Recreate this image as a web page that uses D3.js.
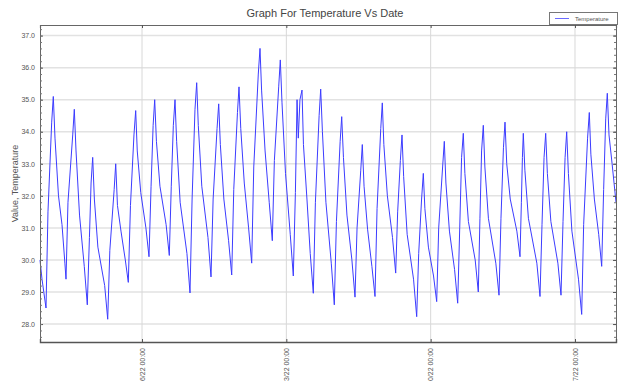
<!DOCTYPE html>
<html><head><meta charset="utf-8">
<script src="https://cdn.jsdelivr.net/npm/d3@7"></script>
<style>body{margin:0;background:#fff}svg{display:block}text{font-family:"Liberation Sans",Arial,sans-serif}</style>
</head><body>
<svg id="c" width="619" height="381"></svg>
<script>
// day-of-month (January), decimal
const days = [1.053,1.15,1.344,
1.44,1.62,1.698,1.78,1.95,2.12,2.26,2.314,
2.41,2.64,2.717,2.80,2.97,3.20,3.347,
3.45,3.53,3.609,3.69,3.86,4.19,4.337,
4.44,4.65,4.725,4.81,4.98,5.19,5.336,
5.44,5.61,5.694,5.77,5.94,6.19,6.340,
6.44,6.54,6.616,6.70,6.87,7.17,7.324,
7.42,7.52,7.601,7.68,7.85,8.18,8.328,
8.43,8.57,8.653,8.73,8.90,9.20,9.347,
9.45,9.64,9.720,9.80,9.97,10.20,10.351,
10.45,10.63,10.705,10.79,10.96,11.17,11.320,
11.42,11.64,11.723,11.80,11.97,12.17,12.320,
12.42,12.63,12.708,12.79,12.96,13.19,13.338,
13.44,13.52,13.58,13.66,13.76,13.83,14.00,14.16,14.308,
14.41,14.59,14.667,14.75,14.92,15.18,15.327,
15.43,15.61,15.686,15.77,15.94,16.18,16.331,
16.43,16.61,16.685,16.77,16.94,17.15,17.301,
17.40,17.58,17.655,17.73,17.90,18.15,18.304,
18.40,18.53,18.610,18.69,18.86,19.17,19.323,
19.42,19.56,19.644,19.72,19.89,20.14,20.293,
20.39,20.58,20.662,20.74,20.91,21.16,21.311,
21.41,21.50,21.583,21.66,21.83,22.16,22.311,
22.39,22.47,22.553,22.63,22.80,23.16,23.315,
23.41,23.53,23.606,23.69,23.86,24.18,24.333,
24.40,24.45,24.493,24.57,24.74,25.15,25.303,
25.40,25.50,25.579,25.66,25.83,26.17,26.322,
26.42,26.52,26.598,26.68,26.85,27.17,27.325,
27.42,27.61,27.694,27.77,27.94,28.15,28.295,
28.39,28.49,28.567,28.65,28.80,28.989];
const temps = [30.0,29.4,28.5,
31.5,34.3,35.1,33.8,32.0,31.1,29.9,29.4,
31.8,33.9,34.7,33.4,31.4,29.8,28.6,
30.7,32.4,33.2,31.9,30.4,29.2,28.15,
30.3,32.2,33.0,31.7,30.9,30.0,29.3,
31.7,33.9,34.66,33.4,32.1,31.0,30.1,
32.3,34.2,35.0,33.7,32.3,31.1,30.14,
32.3,34.2,35.0,33.7,31.8,30.2,28.97,
31.9,34.7,35.53,34.2,32.3,30.7,29.47,
31.9,34.1,34.87,33.6,31.9,30.6,29.53,
32.2,34.6,35.4,34.1,32.4,31.0,29.9,
32.9,35.8,36.6,35.3,33.4,31.8,30.6,
33.1,35.4,36.24,34.9,32.7,30.8,29.5,
32.1,35.0,33.8,35.0,35.3,33.6,31.9,30.2,28.96,
31.8,34.5,35.33,34.0,31.8,29.9,28.6,
31.2,33.7,34.47,33.2,31.4,30.0,28.84,
31.0,32.8,33.6,32.3,30.96,29.8,28.86,
31.6,34.1,34.9,33.6,32.0,30.7,29.59,
31.5,33.1,33.9,32.6,30.8,29.4,28.23,
30.2,31.9,32.7,31.6,30.4,29.5,28.7,
31.0,32.9,33.7,32.4,30.9,29.7,28.65,
31.0,33.2,33.95,32.7,31.2,30.0,29.0,
31.3,33.4,34.2,32.9,31.3,29.9,28.9,
31.3,33.5,34.3,33.0,31.9,30.9,30.1,
31.8,33.2,33.95,32.8,31.3,29.9,28.86,
31.1,33.2,33.95,32.7,31.2,29.9,28.9,
31.2,33.2,34.0,32.7,30.9,29.4,28.3,
31.1,33.8,34.6,33.3,31.9,30.8,29.8,
32.2,34.4,35.2,33.9,33.0,31.8];
const yTicks = [28,29,30,31,32,33,34,35,36,37];
const xTickDays = [6,13,20,27];
const xTickLabels = ["1/6/22 00:00","1/13/22 00:00","1/20/22 00:00","1/27/22 00:00"];
const seriesName = "Temperature";
const title = "Graph For Temperature Vs Date";
const yTitle = "Value, Temperature";

const toDate = d => new Date(Date.UTC(2022,0,1) + (d-1)*86400000);
const data = days.map((d,i)=>({t:toDate(d), v:temps[i]}));

const L=40,R=616,T=25,B=342;
const svg = d3.select("#c");
const x = d3.scaleUtc().domain([toDate(1.053), toDate(28.989)]).range([L,R]);
const y = d3.scaleLinear().domain([27.44,37.33]).range([B,T]);

// grid
const g = svg.append("g");
g.selectAll(".hg").data(yTicks).join("line")
  .attr("x1",L).attr("x2",R).attr("y1",d=>y(d)).attr("y2",d=>y(d))
  .attr("stroke","#e2e2e2").attr("stroke-width",1.5);
g.selectAll(".vg").data(xTickDays).join("line")
  .attr("x1",d=>x(toDate(d))).attr("x2",d=>x(toDate(d))).attr("y1",T).attr("y2",B)
  .attr("stroke","#d8d8d8").attr("stroke-width",1);

// line
const line = d3.line().x(d=>x(d.t)).y(d=>y(d.v));
svg.append("path").datum(data).attr("d",line)
  .attr("fill","none").attr("stroke","#3c3cff").attr("stroke-width",1).attr("stroke-linejoin","round");

// axes
const minor = d3.range(27.6,37.3,0.2).map(v=>+v.toFixed(1));
const yl = d3.axisLeft(y).tickValues(yTicks).tickSize(-3).tickPadding(5).tickFormat(d3.format(".1f"));
const ylAx = svg.append("g").attr("transform",`translate(${L},0)`).call(yl);
ylAx.select(".domain").attr("stroke","#666");
ylAx.selectAll(".tick line").attr("stroke","#555");
ylAx.selectAll("text").attr("font-size",7).attr("fill","#555");
const ylm = svg.append("g").attr("transform",`translate(${L},0)`).call(d3.axisLeft(y).tickValues(minor).tickSize(-2).tickFormat(""));
ylm.select(".domain").remove(); ylm.selectAll(".tick line").attr("stroke","#777");
const yr = svg.append("g").attr("transform",`translate(${R},0)`).call(d3.axisRight(y).tickValues(minor).tickSize(-2).tickFormat(""));
yr.select(".domain").attr("stroke","#666"); yr.selectAll(".tick line").attr("stroke","#777");
const yr2 = svg.append("g").attr("transform",`translate(${R},0)`).call(d3.axisRight(y).tickValues(yTicks).tickSize(-3).tickFormat(""));
yr2.select(".domain").remove(); yr2.selectAll(".tick line").attr("stroke","#555");

const xb = svg.append("g").attr("transform",`translate(0,${B})`)
  .call(d3.axisBottom(x).tickValues(xTickDays.map(toDate)).tickSize(-3).tickPadding(0).tickFormat((d,i)=>xTickLabels[i]));
xb.select(".domain").attr("stroke","#555").attr("stroke-width",1.4);
xb.selectAll(".tick line").attr("stroke","#555");
xb.selectAll("text").attr("font-size",7).attr("fill","#555")
  .attr("text-anchor","end").attr("dy","0.32em").attr("transform","translate(0,6) rotate(-90)");
const xt = svg.append("g").attr("transform",`translate(0,${T})`)
  .call(d3.axisTop(x).tickValues(xTickDays.map(toDate)).tickSize(-3).tickFormat(""));
xt.select(".domain").attr("stroke","#666").attr("stroke-width",1.2);
xt.selectAll(".tick line").attr("stroke","#555");

// titles
svg.append("text").attr("x",325).attr("y",17).attr("text-anchor","middle")
  .attr("font-size",11).attr("fill","#444").text(title);
svg.append("text").attr("transform",`translate(18,${(T+B)/2}) rotate(-90)`).attr("text-anchor","middle")
  .attr("font-size",9).attr("fill","#555").text(yTitle);

// legend
const lg = svg.append("g");
lg.append("rect").attr("x",549.5).attr("y",12.5).attr("width",68).attr("height",12)
  .attr("fill","#fff").attr("stroke","#777");
lg.append("line").attr("x1",555).attr("x2",569).attr("y1",18.5).attr("y2",18.5).attr("stroke","#6a6aff").attr("stroke-width",1);
lg.append("text").attr("x",575).attr("y",21).attr("font-size",6).attr("fill","#555").text(seriesName);
</script>
</body></html>
